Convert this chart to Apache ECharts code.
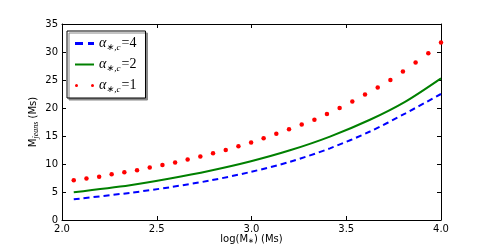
<!DOCTYPE html>
<html><head><meta charset="utf-8">
<script src="https://cdn.jsdelivr.net/npm/echarts@6/dist/echarts.min.js"></script>
<style>html,body{margin:0;padding:0;background:#fff}#c{width:491px;height:245px}</style>
</head><body><div id="c"></div>
<script>
// x positions (log M*) for the dotted series
const xDots = [2.062, 2.129, 2.196, 2.262, 2.329, 2.396, 2.463, 2.530, 2.597, 2.663,
               2.730, 2.797, 2.864, 2.931, 2.998, 3.064, 3.131, 3.198, 3.265, 3.332,
               3.398, 3.465, 3.532, 3.599, 3.666, 3.733, 3.799, 3.866, 3.933, 4.000];
const alpha1 = [7.10, 7.39, 7.74, 8.16, 8.52, 8.88, 9.36, 9.84, 10.25, 10.79,
                11.32, 11.93, 12.52, 13.19, 13.83, 14.62, 15.38, 16.22, 17.05, 17.92,
                18.92, 19.99, 21.14, 22.39, 23.64, 25.0, 26.5, 28.11, 29.77, 31.7];
// x positions for the line series
const xLine = [2.062, 2.359, 2.570, 2.781, 2.992, 3.203, 3.414, 3.625, 3.810, 4.000];
const alpha2 = [4.95, 6.2, 7.4, 8.8, 10.45, 12.45, 14.9, 17.9, 21.1, 25.3];
const alpha4 = [3.70, 4.85, 5.85, 7.05, 8.55, 10.4, 12.8, 15.8, 19.0, 22.5];
const xTicks = [2.0, 2.5, 3.0, 3.5, 4.0];
const yTicks = [0, 5, 10, 15, 20, 25, 30, 35];

const pair = (xs, ys) => xs.map((x, i) => [x, ys[i]]);
const font = 'DejaVu Sans';
const serif = 'Liberation Serif';
const lab = {fontFamily: font, fontSize: 10, color: '#000', fontWeight: 'normal'};
const rich = {
  a: {fontFamily: serif, fontStyle: 'italic', fontWeight: 'normal', fontSize: 14, color: '#000', lineHeight: 16},
  s: {fontFamily: serif, fontStyle: 'italic', fontWeight: 'normal', fontSize: 9, color: '#000', lineHeight: 8, padding: [8, 1, 0, 0]},
  e: {fontFamily: serif, fontWeight: 'normal', fontSize: 14, color: '#000', lineHeight: 16}
};
const legendName = n => '{a|α}{s|∗,c}{e|=' + n + '}';

const chart = echarts.init(document.getElementById('c'), null, {renderer: 'canvas'});
const axisCommon = {
  axisLine: {show: true, onZero: false, lineStyle: {color: '#000', width: 1}},
  axisTick: {show: true, inside: true, length: 4, lineStyle: {color: '#000'}},
  splitLine: {show: false}
};
chart.setOption({
  animation: false,
  grid: {left: 62, right: 50, top: 24, bottom: 25, containLabel: false, outerBoundsMode: 'none'},
  xAxis: [
    Object.assign({type: 'value', min: 2, max: 4, interval: 0.5, position: 'bottom',
      axisLabel: Object.assign({margin: 4, formatter: v => v.toFixed(1)}, lab),
      name: '{t|log(M}{s|∗}{t|) (Ms)}', nameLocation: 'middle', nameGap: 13, nameMoveOverlap: false,
      nameTextStyle: {rich: {t: {fontFamily: font, fontSize: 10, color: '#000', lineHeight: 12},
        s: {fontFamily: font, fontSize: 7, color: '#000', lineHeight: 7, padding: [5, 0, 0, 0]}}}}, axisCommon),
    Object.assign({type: 'value', min: 2, max: 4, interval: 0.5, position: 'top',
      axisLabel: {show: false}}, axisCommon)
  ],
  yAxis: [
    Object.assign({type: 'value', min: 0, max: 35, interval: 5, position: 'left',
      axisLabel: Object.assign({margin: 4}, lab),
      name: '{t|M}{s|jeans}{t| (Ms)}', nameLocation: 'middle', nameGap: 22, nameMoveOverlap: false,
      nameTextStyle: {rich: {t: {fontFamily: font, fontSize: 10, color: '#000'},
        s: {fontFamily: serif, fontStyle: 'italic', fontSize: 8, color: '#000', padding: [5, 0, 0, 0]}}}}, axisCommon),
    Object.assign({type: 'value', min: 0, max: 35, interval: 5, position: 'right',
      axisLabel: {show: false}}, axisCommon)
  ],
  legend: {
    orient: 'vertical', left: 67, top: 31,
    padding: [4, 9, 4, 8], itemGap: 4, itemWidth: 19, itemHeight: 3, itemTextGap: 13,
    backgroundColor: '#fff', borderColor: '#000', borderWidth: 1,
    shadowColor: '#888', shadowOffsetX: 2, shadowOffsetY: 2, shadowBlur: 0,
    textStyle: {fontWeight: 'normal', rich: rich},
    data: [
      {name: legendName(4), icon: 'path://M0,0h8v3h-8z M13,0h6v3h-6z'},
      {name: legendName(2), icon: 'path://M0,0.5h19v2h-19z'},
      {name: legendName(1), icon: 'path://M0,1.5a1.5,1.5 0 1,0 3,0a1.5,1.5 0 1,0 -3,0z M16,1.5a1.5,1.5 0 1,0 3,0a1.5,1.5 0 1,0 -3,0z'}
    ]
  },
  series: [
    {name: legendName(4), type: 'line', data: pair(xLine, alpha4), smooth: 0.3, showSymbol: false,
      lineStyle: {color: '#0000ff', width: 2, type: [6, 4]}, itemStyle: {color: '#0000ff'}},
    {name: legendName(2), type: 'line', data: pair(xLine, alpha2), smooth: 0.3, showSymbol: false,
      lineStyle: {color: '#008000', width: 2}, itemStyle: {color: '#008000'}},
    {name: legendName(1), type: 'scatter', data: pair(xDots, alpha1), symbol: 'circle', symbolSize: 4.5,
      itemStyle: {color: '#ff0000', opacity: 1}}
  ]
});
</script></body></html>
